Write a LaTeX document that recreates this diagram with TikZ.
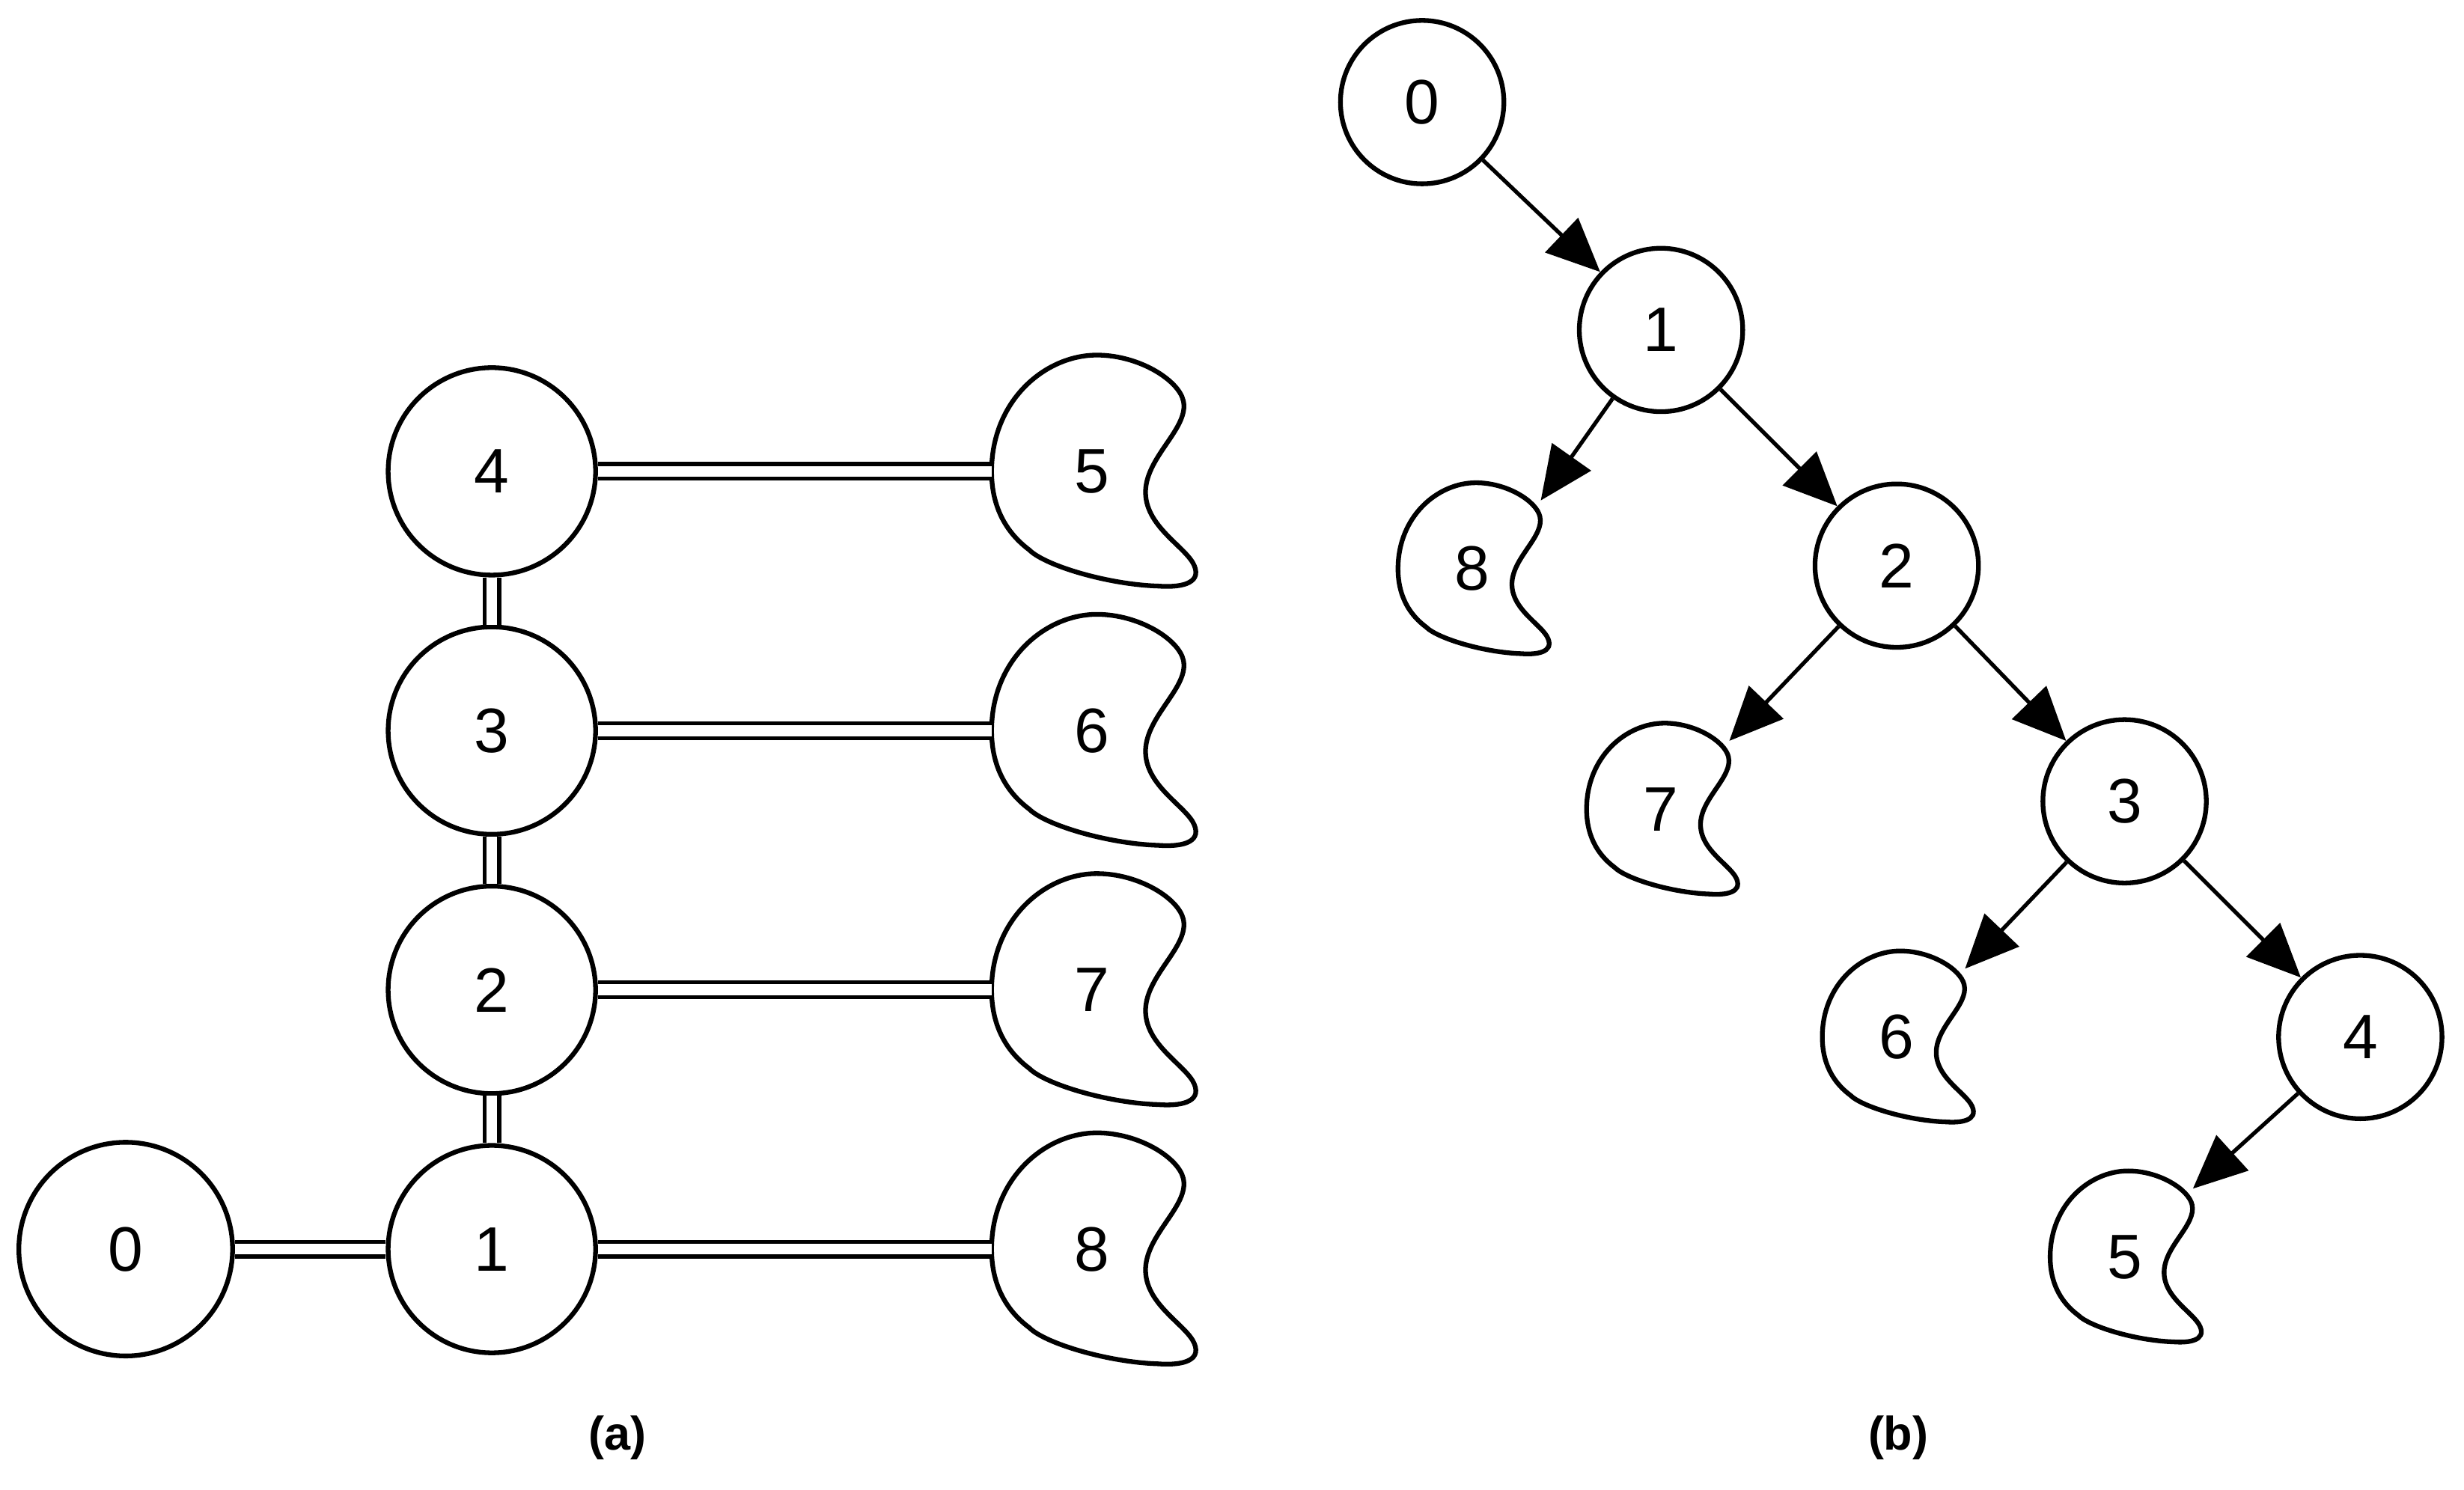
\documentclass[tikz,border=0pt]{standalone}
\usepackage{fontspec}
\setmainfont{Liberation Sans}
\usetikzlibrary{arrows.meta}
\begin{document}
\begin{tikzpicture}[x=1pt,y=-1pt,line width=3pt,
  lab/.style={font=\fontsize{40}{48}\selectfont},
  cnode/.style={circle,draw,lab,minimum size=132pt,inner sep=0pt},
  snode/.style={circle,draw,lab,minimum size=104pt,inner sep=0pt},
  bnode/.style={circle,lab,minimum size=#1,inner sep=0pt},
  dbl/.style={double,double distance=7pt,line width=2.5pt},
  arr/.style={-{Triangle[length=34pt,width=30pt]},line width=2.5pt},
  captxt/.style={font=\fontsize{30}{36}\selectfont\rmfamily\bfseries}]
\useasboundingbox (0,0) rectangle (1568,948);
\newcommand{\blobshape}[2]{%
  \draw[line width=3pt,shift={(#1)},scale=#2]
   (-64,0) .. controls (-64,-45) and (-30,-74) .. (3,-74)
   .. controls (30,-74) and (55,-58) .. (58,-45)
   .. controls (62,-28) and (35,-10) .. (34,12)
   .. controls (33,35) and (60,48) .. (65,60)
   .. controls (70,72) and (55,74) .. (42,73)
   .. controls (10,72) and (-30,60) .. (-40,50)
   .. controls (-60,35) and (-64,15) .. (-64,0) -- cycle;}
% (a)
\node[cnode,minimum size=136pt] (a0) at (80,795) {0};
\node[cnode] (a1) at (313,795) {1};
\node[cnode] (a2) at (313,630) {2};
\node[cnode] (a3) at (313,465) {3};
\node[cnode] (a4) at (313,300) {4};
\foreach \n/\y in {5/300,6/465,7/630,8/795}{
  \blobshape{695,\y}{1}
  \node[lab] (a\n) at (695,\y) {\n};
  \coordinate (a\n w) at (631,\y);
}
\draw[dbl] (a0) -- (a1);
\draw[dbl] (a1) -- (a2);
\draw[dbl] (a2) -- (a3);
\draw[dbl] (a3) -- (a4);
\draw[dbl] (a4) -- (a5w);
\draw[dbl] (a3) -- (a6w);
\draw[dbl] (a2) -- (a7w);
\draw[dbl] (a1) -- (a8w);
% (b)
\node[snode] (b0) at (905,65) {0};
\node[snode] (b1) at (1057,210) {1};
\node[snode] (b2) at (1207,360) {2};
\node[snode] (b3) at (1352,510) {3};
\node[snode] (b4) at (1502,660) {4};
\foreach \n/\x/\y in {8/937/362,7/1057/515,6/1207/660,5/1352/800}{
  \blobshape{\x,\y}{0.74}
  \node[bnode=120pt] (b\n) at (\x,\y) {\n};
}
\draw[arr] (b0) -- (b1);
\draw[arr] (b1) -- (b8.north east);
\draw[arr] (b1) -- (b2);
\draw[arr] (b2) -- (b7.north east);
\draw[arr] (b2) -- (b3);
\draw[arr] (b3) -- (b6.north east);
\draw[arr] (b3) -- (b4);
\draw[arr] (b4) -- (b5.north east);
\node[captxt] (ca) at (393,915) {(a)};
\node[captxt] (cb) at (1208,915) {(b)};
\end{tikzpicture}
\end{document}
